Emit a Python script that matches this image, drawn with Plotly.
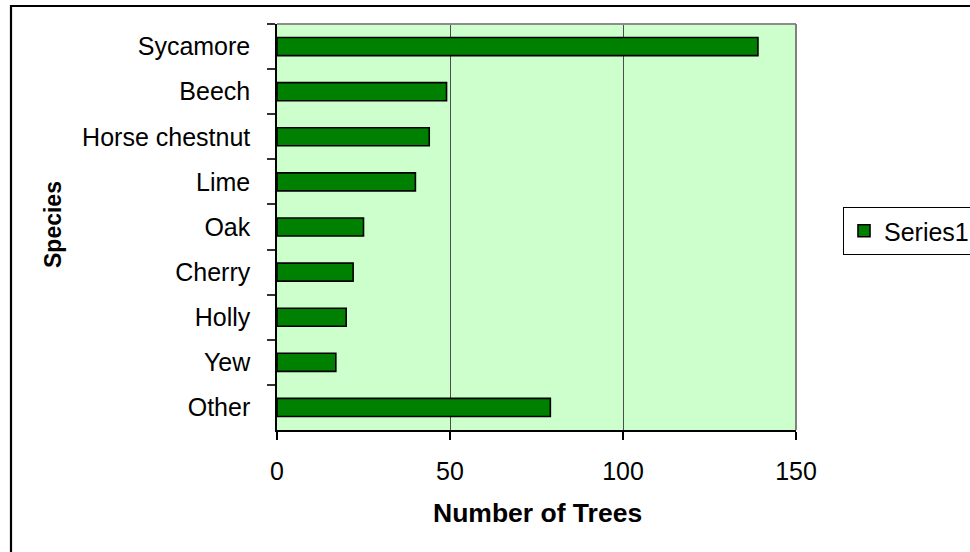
import plotly.graph_objects as go

species = ["Sycamore", "Beech", "Horse chestnut", "Lime", "Oak", "Cherry", "Holly", "Yew", "Other"]
counts = [139, 49, 44, 40, 25, 22, 20, 17, 79]
x_ticks = [0, 50, 100, 150]
series_name = "Series1"

FONT = "Liberation Sans, Arial, sans-serif"

W, H = 970, 552
L, R, T, B = 277, 796, 24, 430  # plot area pixel bounds

fig = go.Figure()
fig.add_trace(go.Bar(
    y=species, x=counts, orientation="h", name=series_name,
    marker=dict(color="#008000", line=dict(color="black", width=1.6)),
    showlegend=True,
))

pw, ph = R - L, B - T
def px(xp):
    return (xp - L) / pw
def py(yp):
    return (B - yp) / ph

fig.update_layout(
    width=W, height=H,
    margin=dict(l=L, r=W - R, t=T, b=H - B, pad=0, autoexpand=False),
    paper_bgcolor="white",
    plot_bgcolor="#CCFFCC",
    bargap=0.6,
    font=dict(family=FONT, size=25, color="black"),
    xaxis=dict(
        range=[0, 150], tickvals=x_ticks, ticktext=[str(v) for v in x_ticks],
        showgrid=True, gridcolor="#4d4d4d", gridwidth=1, zeroline=False,
        showline=True, linecolor="black", linewidth=1.5,
        ticks="outside", ticklen=8, tickcolor="black", tickwidth=1.5,
        ticklabelstandoff=10,
        tickfont=dict(size=25),
        automargin=False,
    ),
    yaxis=dict(
        type="category", categoryorder="array", categoryarray=species,
        range=[len(species) - 0.5, -0.5],
        tickson="boundaries", ticks="outside", ticklen=8, tickcolor="#333333", tickwidth=1.5,
        showline=True, linecolor="black", linewidth=1.5,
        showgrid=False, zeroline=False,
        ticklabelstandoff=20,
        tickfont=dict(size=25),
        automargin=False,
    ),
    legend=dict(
        xref="container", yref="container",
        x=843 / W, y=1 - 207 / H, xanchor="left", yanchor="top",
        bgcolor="white", bordercolor="black", borderwidth=1,
        font=dict(size=25),
    ),
    shapes=[
        # gray plot border (top and right)
        dict(type="line", xref="paper", yref="paper", x0=0, x1=1, y0=1, y1=1,
             line=dict(color="#8c8c8c", width=2), layer="above"),
        dict(type="line", xref="paper", yref="paper", x0=1, x1=1, y0=0, y1=1,
             line=dict(color="#808080", width=2), layer="above"),
        # chart outer border
        dict(type="rect", xref="paper", yref="paper",
             x0=px(11), x1=px(990), y0=py(575), y1=py(6),
             line=dict(color="black", width=2.2), layer="above"),
    ],
    annotations=[
        dict(text="<b>Number of Trees</b>", xref="paper", yref="paper",
             x=px(537), y=py(513), xanchor="center", yanchor="middle",
             showarrow=False, font=dict(size=26.5)),
        dict(text="<b>Species</b>", xref="paper", yref="paper",
             x=px(53), y=py(225), xanchor="center", yanchor="middle",
             textangle=-90, showarrow=False, font=dict(size=23)),
    ],
)

fig.write_html("out.html")
